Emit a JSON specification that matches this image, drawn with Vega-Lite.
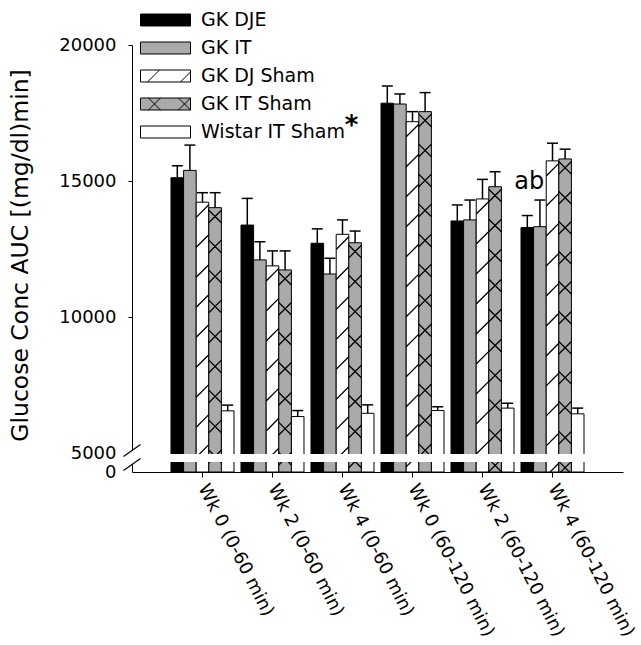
{
 "$schema": "https://vega.github.io/schema/vega-lite/v6.json",
 "width": 491,
 "height": 427,
 "autosize": {"type": "none"},
 "padding": {"left": 132, "top": 45, "right": 18, "bottom": 173},
 "background": "white",
 "config": {
  "view": {"stroke": null},
  "font": "DejaVu Sans",
  "axis": {"domainColor": "black", "tickColor": "black", "labelColor": "black", "titleColor": "black", "grid": false, "domainWidth": 1, "tickWidth": 1}
 },
 "data": {"values": [
  {"group": "Wk 0 (0-60 min)", "series": "GK DJE", "value": 15120, "upper": 15560},
  {"group": "Wk 0 (0-60 min)", "series": "GK IT", "value": 15390, "upper": 16320},
  {"group": "Wk 0 (0-60 min)", "series": "GK DJ Sham", "value": 14220, "upper": 14570},
  {"group": "Wk 0 (0-60 min)", "series": "GK IT Sham", "value": 14020, "upper": 14570},
  {"group": "Wk 0 (0-60 min)", "series": "Wistar IT Sham", "value": 6550, "upper": 6760},
  {"group": "Wk 2 (0-60 min)", "series": "GK DJE", "value": 13380, "upper": 14360},
  {"group": "Wk 2 (0-60 min)", "series": "GK IT", "value": 12100, "upper": 12770},
  {"group": "Wk 2 (0-60 min)", "series": "GK DJ Sham", "value": 11880, "upper": 12430},
  {"group": "Wk 2 (0-60 min)", "series": "GK IT Sham", "value": 11730, "upper": 12430},
  {"group": "Wk 2 (0-60 min)", "series": "Wistar IT Sham", "value": 6340, "upper": 6560},
  {"group": "Wk 4 (0-60 min)", "series": "GK DJE", "value": 12710, "upper": 13240},
  {"group": "Wk 4 (0-60 min)", "series": "GK IT", "value": 11580, "upper": 12160},
  {"group": "Wk 4 (0-60 min)", "series": "GK DJ Sham", "value": 13040, "upper": 13570},
  {"group": "Wk 4 (0-60 min)", "series": "GK IT Sham", "value": 12730, "upper": 13160},
  {"group": "Wk 4 (0-60 min)", "series": "Wistar IT Sham", "value": 6460, "upper": 6770},
  {"group": "Wk 0 (60-120 min)", "series": "GK DJE", "value": 17860, "upper": 18490},
  {"group": "Wk 0 (60-120 min)", "series": "GK IT", "value": 17830, "upper": 18200},
  {"group": "Wk 0 (60-120 min)", "series": "GK DJ Sham", "value": 17180, "upper": 17550},
  {"group": "Wk 0 (60-120 min)", "series": "GK IT Sham", "value": 17550, "upper": 18250},
  {"group": "Wk 0 (60-120 min)", "series": "Wistar IT Sham", "value": 6560, "upper": 6700},
  {"group": "Wk 2 (60-120 min)", "series": "GK DJE", "value": 13530, "upper": 14120},
  {"group": "Wk 2 (60-120 min)", "series": "GK IT", "value": 13570, "upper": 14300},
  {"group": "Wk 2 (60-120 min)", "series": "GK DJ Sham", "value": 14340, "upper": 15060},
  {"group": "Wk 2 (60-120 min)", "series": "GK IT Sham", "value": 14790, "upper": 15340},
  {"group": "Wk 2 (60-120 min)", "series": "Wistar IT Sham", "value": 6650, "upper": 6830},
  {"group": "Wk 4 (60-120 min)", "series": "GK DJE", "value": 13290, "upper": 13730},
  {"group": "Wk 4 (60-120 min)", "series": "GK IT", "value": 13320, "upper": 14300},
  {"group": "Wk 4 (60-120 min)", "series": "GK DJ Sham", "value": 15740, "upper": 16390},
  {"group": "Wk 4 (60-120 min)", "series": "GK IT Sham", "value": 15810, "upper": 16170},
  {"group": "Wk 4 (60-120 min)", "series": "Wistar IT Sham", "value": 6440, "upper": 6650}
 ]},
 "layer": [
  {
   "mark": {"type": "bar", "stroke": "black", "strokeWidth": 1, "opacity": 1},
   "encoding": {
    "x": {"field": "group", "type": "nominal",
     "scale": {"domain": ["Wk 0 (0-60 min)", "Wk 2 (0-60 min)", "Wk 4 (0-60 min)", "Wk 0 (60-120 min)", "Wk 2 (60-120 min)", "Wk 4 (60-120 min)"], "paddingInner": 0.1, "paddingOuter": 0.557},
     "axis": {"title": null, "labelAngle": 63, "labelAlign": "left", "labelBaseline": "middle", "labelFontSize": 18, "labelPadding": 8, "tickSize": 5, "labelLimit": 400}},
    "xOffset": {"field": "series", "type": "nominal",
     "scale": {"domain": ["GK DJE", "GK IT", "GK DJ Sham", "GK IT Sham", "Wistar IT Sham"]}},
    "y": {"field": "value", "type": "quantitative",
     "scale": {"domain": [0, 5000, 20000], "range": [427, 408, 0], "nice": false, "zero": false},
     "axis": {"title": "Glucose Conc AUC [(mg/dl)min]", "values": [0, 5000, 10000, 15000, 20000], "format": "d", "labelFontSize": 18, "tickSize": 4, "labelPadding": 12,
      "titleFontSize": 23.5, "titleFontWeight": "normal", "titleX": -112, "titleY": 210, "titleAngle": -90, "titleAlign": "center", "titleBaseline": "middle",
      "tickOpacity": {"condition": {"test": "datum.value <= 5000", "value": 0}, "value": 1}}},
    "y2": {"datum": 0},
    "fill": {"field": "series", "type": "nominal",
     "scale": {"domain": ["GK DJE", "GK IT", "GK DJ Sham", "GK IT Sham", "Wistar IT Sham"], "range": ["black", "#aaaaaa", "white", "#aaaaaa", "white"]},
     "legend": {"orient": "none", "legendX": 8, "legendY": -39, "title": null, "padding": 0,
      "symbolType": "M-1,-0.444L2.704,-0.444L2.704,0.444L-1,0.444Z", "symbolSize": 729, "symbolStrokeColor": "black", "symbolStrokeWidth": 1, "symbolOpacity": 1,
      "labelFontSize": 19, "labelColor": "black", "labelOffset": 33, "rowPadding": 4,
      "encode": {"symbols": {"update": {"shape": {"signal": "datum.value === 'GK DJ Sham' ? 'M-1,-0.444L2.704,-0.444L2.704,0.444L-1,0.444ZM-0.48,0.444L0.41,-0.444M1.96,0.444L2.704,-0.3' : datum.value === 'GK IT Sham' ? 'M-1,-0.444L2.704,-0.444L2.704,0.444L-1,0.444ZM-0.41,-0.444L0.48,0.444M-0.41,0.444L0.48,-0.444M1.815,-0.444L2.704,0.444M1.815,0.444L2.704,-0.444' : 'M-1,-0.444L2.704,-0.444L2.704,0.444L-1,0.444Z'"}}}}}
    }
   }
  },
  {
   "transform": [{"filter": "datum.series === 'GK DJ Sham'"}],
   "mark": {"type": "point", "shape": "M-1,2.4L1,0.4M-1,7.16L1,5.16M-1,11.92L1,9.92M-1,16.68L1,14.68M-1,21.44L1,19.44M-1,26.2L1,24.2M-1,30.96L1,28.96M-1,35.72L1,33.72M-1,40.48L1,38.48M-1,45.24L1,43.24M-1,50L1,48M-1,54.76L1,52.76M-1,59.52L1,57.52M-1,64.28L1,62.28M-1,69.04L1,67.04", "size": 158.76, "filled": false, "stroke": "black", "strokeWidth": 1.3, "opacity": 1, "clip": true},
   "encoding": {
    "x": {"field": "group", "type": "nominal"},
    "xOffset": {"field": "series", "type": "nominal"},
    "y": {"field": "value", "type": "quantitative"}
   }
  },
  {
   "transform": [{"filter": "datum.series === 'GK IT Sham'"}],
   "mark": {"type": "point", "shape": "M-1,2.4L1,0.4M-1,0.4L1,2.4M-1,7.16L1,5.16M-1,5.16L1,7.16M-1,11.92L1,9.92M-1,9.92L1,11.92M-1,16.68L1,14.68M-1,14.68L1,16.68M-1,21.44L1,19.44M-1,19.44L1,21.44M-1,26.2L1,24.2M-1,24.2L1,26.2M-1,30.96L1,28.96M-1,28.96L1,30.96M-1,35.72L1,33.72M-1,33.72L1,35.72M-1,40.48L1,38.48M-1,38.48L1,40.48M-1,45.24L1,43.24M-1,43.24L1,45.24M-1,50L1,48M-1,48L1,50M-1,54.76L1,52.76M-1,52.76L1,54.76M-1,59.52L1,57.52M-1,57.52L1,59.52M-1,64.28L1,62.28M-1,62.28L1,64.28M-1,69.04L1,67.04M-1,67.04L1,69.04", "size": 158.76, "filled": false, "stroke": "black", "strokeWidth": 1.3, "opacity": 1, "clip": true},
   "encoding": {
    "x": {"field": "group", "type": "nominal"},
    "xOffset": {"field": "series", "type": "nominal"},
    "y": {"field": "value", "type": "quantitative"}
   }
  },
  {
   "data": {"values": [{}]},
   "mark": {"type": "rect", "color": "white", "opacity": 1},
   "encoding": {
    "y": {"datum": 4737},
    "y2": {"datum": 2632}
   }
  },
  {
   "mark": {"type": "rule", "stroke": "black", "strokeWidth": 1.5},
   "encoding": {
    "x": {"field": "group", "type": "nominal"},
    "xOffset": {"field": "series", "type": "nominal"},
    "y": {"field": "value", "type": "quantitative"},
    "y2": {"field": "upper"}
   }
  },
  {
   "mark": {"type": "tick", "color": "black", "thickness": 1.5, "size": 11, "orient": "horizontal", "opacity": 1},
   "encoding": {
    "x": {"field": "group", "type": "nominal"},
    "xOffset": {"field": "series", "type": "nominal"},
    "y": {"field": "upper", "type": "quantitative"}
   }
  },
  {
   "data": {"values": [{}]},
   "mark": {"type": "text", "fontSize": 24, "align": "center", "baseline": "middle", "dx": 2, "color": "black"},
   "encoding": {
    "x": {"datum": "Wk 4 (60-120 min)"},
    "xOffset": {"datum": "GK DJE"},
    "y": {"datum": 14964},
    "text": {"value": "ab"}
   }
  },
  {
   "data": {"values": [{}]},
   "mark": {"type": "text", "fontSize": 26, "fontWeight": "bold", "align": "center", "baseline": "middle", "dx": 9, "dy": 2, "color": "black"},
   "encoding": {
    "x": {"datum": "Wk 4 (0-60 min)"},
    "xOffset": {"datum": "GK DJ Sham"},
    "y": {"datum": 17096},
    "text": {"value": "*"}
   }
  },
  {
   "data": {"values": [{}]},
   "mark": {"type": "point", "shape": "M-0.85,-0.1L0.85,-1.3L0.85,0.1L-0.85,1.3Z", "size": 400, "filled": true, "fill": "white", "strokeWidth": 0, "opacity": 1},
   "encoding": {
    "x": {"value": 0},
    "y": {"datum": 3816}
   }
  },
  {
   "data": {"values": [{}]},
   "mark": {"type": "point", "shape": "M-0.85,-0.1L0.85,-1.3M-0.85,1.3L0.85,0.1", "size": 400, "filled": false, "stroke": "black", "strokeWidth": 1.2, "opacity": 1},
   "encoding": {
    "x": {"value": 0},
    "y": {"datum": 3816}
   }
  }
 ]
}
